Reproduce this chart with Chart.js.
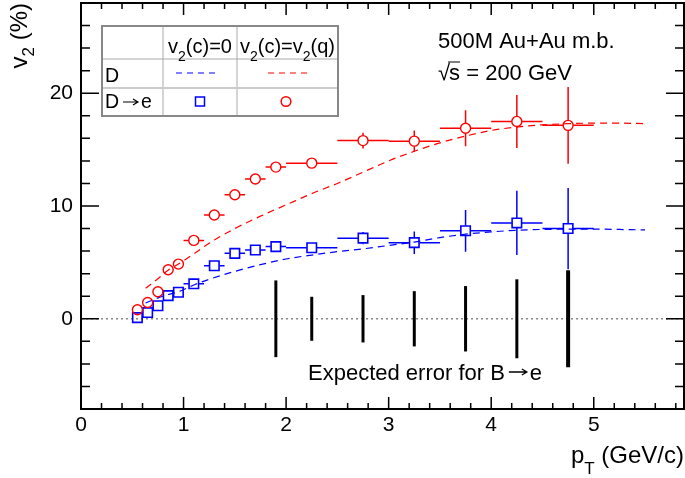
<!DOCTYPE html>
<html>
<head>
<meta charset="utf-8">
<script src="https://cdn.jsdelivr.net/npm/chart.js@4/dist/chart.umd.min.js"></script>
<style>
  html, body { margin: 0; padding: 0; background: #fff; }
</style>
</head>
<body>
<canvas id="v2chart" width="685" height="478"></canvas>
<script>
// D -> e measured points (pT bin centres and half widths, GeV/c)
const ptBins = [0.55, 0.65, 0.75, 0.85, 0.95, 1.1, 1.3, 1.5, 1.7, 1.9, 2.25, 2.75, 3.25, 3.75, 4.25, 4.75]
const ptHalf = [0.05, 0.05, 0.05, 0.05, 0.05, 0.1, 0.1, 0.1, 0.1, 0.1, 0.25, 0.25, 0.25, 0.25, 0.25, 0.25]

// v2(c)=0  (blue squares), %
const v2eNoFlow = [0.1, 0.55, 1.15, 2.05, 2.35, 3.1, 4.7, 5.8, 6.1, 6.4, 6.3, 7.15, 6.75, 7.8, 8.5, 8.0]
const v2eNoFlowErr = [0.1, 0.1, 0.15, 0.2, 0.2, 0.25, 0.3, 0.3, 0.35, 0.35, 0.4, 0.55, 1.0, 1.85, 2.85, 3.6]

// v2(c)=v2(q)  (red circles), %
const v2eFlow = [0.8, 1.45, 2.4, 4.35, 4.85, 6.95, 9.2, 11.0, 12.4, 13.45, 13.8, 15.8, 15.75, 16.9, 17.5, 17.15]
const v2eFlowErr = [0.1, 0.1, 0.15, 0.2, 0.2, 0.25, 0.3, 0.3, 0.35, 0.35, 0.4, 0.7, 0.95, 1.6, 2.35, 3.4]

// D meson curves (dashed)
const curvePt = [0.63, 0.75, 0.85, 0.95, 1.1, 1.25, 1.5, 1.75, 2.0, 2.25, 2.5, 2.75, 3.0, 3.25, 3.5, 3.75, 4.0, 4.25, 4.5, 4.75, 5.0, 5.25, 5.5]
const v2DNoFlow = [1.4, 1.85, 2.15, 2.4, 3.0, 3.5, 4.2, 4.8, 5.3, 5.65, 5.95, 6.2, 6.5, 6.8, 7.2, 7.5, 7.7, 7.85, 7.92, 7.95, 7.95, 7.92, 7.88]
const v2DFlow = [2.7, 3.55, 4.3, 4.85, 5.75, 6.7, 8.0, 9.1, 10.1, 11.1, 12.0, 13.0, 14.0, 14.85, 15.6, 16.2, 16.7, 17.0, 17.2, 17.3, 17.35, 17.35, 17.3]

// expected error for B -> e (half length of black bars around 0)
const bPt = [1.9, 2.25, 2.75, 3.25, 3.75, 4.25, 4.75]
const bErr = [3.4, 1.95, 2.1, 2.45, 2.9, 3.5, 4.3]

// axes
const xTicks = [0, 1, 2, 3, 4, 5]
const yTicks = [0, 10, 20]

const FONT = '"Liberation Sans", Arial, Helvetica, sans-serif'
const BLUE = '#0000ff'
const RED = '#ff0000'

function pts(xs, ys) {
  return xs.map((x, i) => ({ x: x, y: ys[i] }))
}

function richWidth(ctx, parts, size) {
  let w = 0
  parts.forEach(p => {
    ctx.font = Math.round(p.sub ? size * 0.7 : size) + 'px ' + FONT
    w += ctx.measureText(p.t).width
  })
  return w
}

function drawRich(ctx, parts, x, y, size, align, subDrop) {
  let cx = x
  const w = richWidth(ctx, parts, size)
  if (align === 'center') cx = x - w / 2
  if (align === 'right') cx = x - w
  ctx.textAlign = 'left'
  parts.forEach(p => {
    ctx.font = Math.round(p.sub ? size * 0.7 : size) + 'px ' + FONT
    ctx.fillText(p.t, cx, y + (p.sub ? size * subDrop : 0))
    cx += ctx.measureText(p.t).width
  })
}

function drawArrow(ctx, x1, x2, y) {
  ctx.beginPath()
  ctx.moveTo(x1, y)
  ctx.lineTo(x2, y)
  ctx.moveTo(x2 - 5, y - 3)
  ctx.lineTo(x2, y)
  ctx.lineTo(x2 - 5, y + 3)
  ctx.stroke()
}

function drawErrors(ctx, sx, sy, xs, xe, ys, ye, color, gap) {
  ctx.strokeStyle = color
  ctx.lineWidth = 1.5
  xs.forEach((xv, i) => {
    const px = sx.getPixelForValue(xv)
    const py = sy.getPixelForValue(ys[i])
    const x1 = sx.getPixelForValue(xv - xe[i])
    const x2 = sx.getPixelForValue(xv + xe[i])
    const y1 = sy.getPixelForValue(ys[i] + ye[i])
    const y2 = sy.getPixelForValue(ys[i] - ye[i])
    ctx.beginPath()
    if (px - x1 > gap) { ctx.moveTo(x1, py); ctx.lineTo(px - gap, py) }
    if (x2 - px > gap) { ctx.moveTo(px + gap, py); ctx.lineTo(x2, py) }
    if (py - y1 > gap) { ctx.moveTo(px, y1); ctx.lineTo(px, py - gap) }
    if (y2 - py > gap) { ctx.moveTo(px, py + gap); ctx.lineTo(px, y2) }
    ctx.stroke()
  })
}

const rootStyle = {
  id: 'rootStyle',
  beforeDatasetsDraw(chart) {
    const { ctx, chartArea: a, scales: { x, y } } = chart
    ctx.save()
    // dotted zero line
    const y0 = y.getPixelForValue(0)
    ctx.strokeStyle = '#888'
    ctx.lineWidth = 1.5
    ctx.setLineDash([2, 3])
    ctx.beginPath()
    ctx.moveTo(a.left, y0)
    ctx.lineTo(a.right, y0)
    ctx.stroke()
    ctx.setLineDash([])

    // expected B -> e error bars
    ctx.strokeStyle = '#000'
    bPt.forEach((p, i) => {
      ctx.lineWidth = i === bPt.length - 1 ? 4 : 3
      ctx.beginPath()
      ctx.moveTo(x.getPixelForValue(p), y.getPixelForValue(bErr[i]))
      ctx.lineTo(x.getPixelForValue(p), y.getPixelForValue(-bErr[i]))
      ctx.stroke()
    })

    drawErrors(ctx, x, y, ptBins, ptHalf, v2eNoFlow, v2eNoFlowErr, BLUE, 5)
    drawErrors(ctx, x, y, ptBins, ptHalf, v2eFlow, v2eFlowErr, RED, 5)
    ctx.restore()
  },
  afterDraw(chart) {
    const { ctx, chartArea: a, scales: { x, y } } = chart
    ctx.save()
    ctx.fillStyle = '#000'
    ctx.strokeStyle = '#000'

    // ticks (inside the frame, on all four sides)
    ctx.lineWidth = 1.5
    ctx.beginPath()
    for (let v = 0; v <= x.max + 1e-9; v += 0.2) {
      const major = Math.abs(v - Math.round(v)) < 1e-6
      const len = major ? 12 : 6
      const px = x.getPixelForValue(v)
      ctx.moveTo(px, a.bottom); ctx.lineTo(px, a.bottom - len)
      ctx.moveTo(px, a.top); ctx.lineTo(px, a.top + len)
    }
    for (let v = y.min; v <= y.max + 1e-9; v += 2) {
      const major = Math.abs(v % 10) < 1e-6
      const len = major ? 18 : 9
      const py = y.getPixelForValue(v)
      ctx.moveTo(a.left, py); ctx.lineTo(a.left + len, py)
      ctx.moveTo(a.right, py); ctx.lineTo(a.right - len, py)
    }
    ctx.stroke()

    // frame
    ctx.lineWidth = 2
    ctx.strokeRect(a.left, a.top, a.right - a.left, a.bottom - a.top)

    // tick labels
    ctx.font = '21px ' + FONT
    ctx.textAlign = 'center'
    ctx.textBaseline = 'top'
    xTicks.forEach(v => ctx.fillText(String(v), x.getPixelForValue(v), a.bottom + 6))
    ctx.textAlign = 'right'
    ctx.textBaseline = 'middle'
    yTicks.forEach(v => ctx.fillText(String(v), a.left - 8, y.getPixelForValue(v)))
    ctx.textBaseline = 'alphabetic'

    // axis titles
    drawRich(ctx, [{ t: 'p' }, { t: 'T', sub: true }, { t: ' (GeV/c)' }], 684, 463, 24, 'right', 0.45)
    ctx.save()
    ctx.translate(27, 3)
    ctx.rotate(-Math.PI / 2)
    drawRich(ctx, [{ t: 'v' }, { t: '2', sub: true }, { t: ' (%)' }], 0, 0, 24, 'right', 0.3)
    ctx.restore()

    // top-right annotation
    ctx.font = '22px ' + FONT
    ctx.textAlign = 'left'
    ctx.fillText('500M Au+Au m.b.', 438, 48)
    const rx = 438
    ctx.fillText('\u221A', rx, 80)
    const wr = ctx.measureText('\u221A').width
    ctx.fillText('s', rx + wr - 1, 80)
    const ws = ctx.measureText('s').width
    ctx.lineWidth = 1
    ctx.beginPath()
    ctx.moveTo(rx + wr - 2, 62)
    ctx.lineTo(rx + wr + ws - 1, 62)
    ctx.stroke()
    ctx.fillText(' = 200 GeV', rx + wr + ws - 1, 80)

    // B -> e label
    const pre = 'Expected error for B'
    ctx.fillText(pre, 308, 380)
    const pw = ctx.measureText(pre).width
    ctx.lineWidth = 1.3
    drawArrow(ctx, 308 + pw + 4, 308 + pw + 22, 372)
    ctx.fillText('e', 308 + pw + 25, 380)

    // legend table
    const L = 102, R = 338, T = 26, B = 116
    const c1 = 163, c2 = 237, r1 = 59, r2 = 88
    ctx.strokeStyle = '#aaa'
    ctx.lineWidth = 1
    ctx.beginPath()
    ctx.moveTo(c1, T); ctx.lineTo(c1, B)
    ctx.moveTo(c2, T); ctx.lineTo(c2, B)
    ctx.moveTo(L, r1); ctx.lineTo(R, r1)
    ctx.stroke()
    ctx.strokeStyle = '#ccc'
    ctx.lineWidth = 2
    ctx.beginPath()
    ctx.moveTo(L, r2); ctx.lineTo(R, r2)
    ctx.stroke()
    ctx.strokeStyle = '#888'
    ctx.lineWidth = 2
    ctx.strokeRect(L, T, R - L, B - T)

    ctx.fillStyle = '#000'
    drawRich(ctx, [{ t: 'v' }, { t: '2', sub: true }, { t: '(c)=0' }], (c1 + c2) / 2, 53, 19.5, 'center', 0.4)
    drawRich(ctx, [{ t: 'v' }, { t: '2', sub: true }, { t: '(c)=v' }, { t: '2', sub: true }, { t: '(q)' }], (c2 + R) / 2, 53, 19.5, 'center', 0.4)
    ctx.font = '19.5px ' + FONT
    ctx.textAlign = 'left'
    ctx.fillText('D', 105, 82)
    ctx.fillText('D', 105, 108)
    ctx.strokeStyle = '#000'
    ctx.lineWidth = 1.2
    drawArrow(ctx, 123, 138, 102)
    ctx.fillText('e', 141, 108)

    ctx.lineWidth = 1
    ctx.setLineDash([6, 5])
    ctx.strokeStyle = BLUE
    ctx.beginPath(); ctx.moveTo(176, 73); ctx.lineTo(219, 73); ctx.stroke()
    ctx.strokeStyle = RED
    ctx.beginPath(); ctx.moveTo(268, 73); ctx.lineTo(311, 73); ctx.stroke()
    ctx.setLineDash([])

    ctx.lineWidth = 1.5
    ctx.strokeStyle = BLUE
    ctx.strokeRect(195.5, 97, 9, 9)
    ctx.strokeStyle = RED
    ctx.beginPath(); ctx.arc(286, 101.5, 4.8, 0, Math.PI * 2); ctx.stroke()

    ctx.restore()
  }
}

new Chart(document.getElementById('v2chart'), {
  type: 'scatter',
  data: {
    datasets: [
      {
        label: 'D -> e, v2(c)=v2(q)',
        data: pts(ptBins, v2eFlow),
        pointStyle: 'circle',
        pointRadius: 5,
        borderColor: RED,
        backgroundColor: 'rgba(0,0,0,0)',
        borderWidth: 1.4
      },
      {
        label: 'D -> e, v2(c)=0',
        data: pts(ptBins, v2eNoFlow),
        pointStyle: 'rect',
        pointRadius: 6.7,
        borderColor: BLUE,
        backgroundColor: 'rgba(0,0,0,0)',
        borderWidth: 1.6
      },
      {
        type: 'line',
        label: 'D, v2(c)=v2(q)',
        data: pts(curvePt, v2DFlow),
        borderColor: RED,
        borderWidth: 1.2,
        borderDash: [7, 5],
        pointRadius: 0,
        cubicInterpolationMode: 'monotone',
        fill: false
      },
      {
        type: 'line',
        label: 'D, v2(c)=0',
        data: pts(curvePt, v2DNoFlow),
        borderColor: BLUE,
        borderWidth: 1.2,
        borderDash: [7, 5],
        pointRadius: 0,
        cubicInterpolationMode: 'monotone',
        fill: false
      }
    ]
  },
  options: {
    responsive: false,
    animation: false,
    devicePixelRatio: 1,
    layout: { autoPadding: false, padding: { left: 81, right: 1, top: 3, bottom: 69 } },
    plugins: {
      legend: { display: false },
      tooltip: { enabled: false }
    },
    scales: {
      x: { type: 'linear', min: 0, max: 5.88, display: false },
      y: { type: 'linear', min: -8, max: 28, display: false }
    },
    events: []
  },
  plugins: [rootStyle]
})
</script>
</body>
</html>
